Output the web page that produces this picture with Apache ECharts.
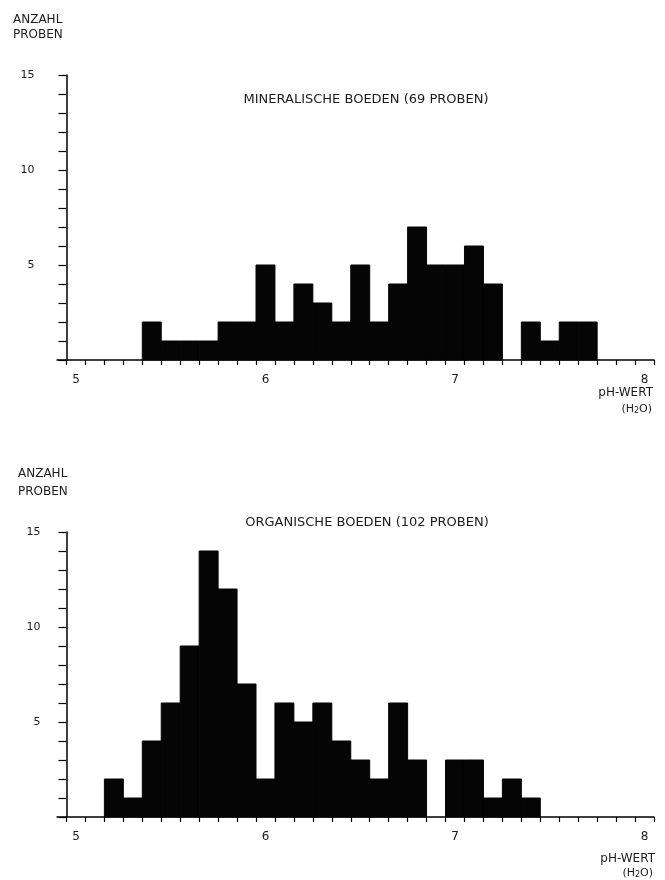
<!DOCTYPE html>
<html>
<head>
<meta charset="utf-8">
<script src="https://cdn.jsdelivr.net/npm/echarts@6/dist/echarts.min.js"></script>
<style>
html,body{margin:0;padding:0;background:#fff;}
#chart{width:665px;height:880px;}
</style>
</head>
<body>
<div id="chart"></div>
<script>
// ---- data ----
var mineralPH = [5.4,5.5,5.6,5.7,5.8,5.9,6.0,6.1,6.2,6.3,6.4,6.5,6.6,6.7,6.8,6.9,7.0,7.1,7.2,7.3,7.4,7.5,7.6,7.7];
var mineralCount = [2,1,1,1,2,2,5,2,4,3,2,5,2,4,7,5,5,6,4,0,2,1,2,2];
var organicPH = [5.2,5.3,5.4,5.5,5.6,5.7,5.8,5.9,6.0,6.1,6.2,6.3,6.4,6.5,6.6,6.7,6.8,6.9,7.0,7.1,7.2,7.3,7.4];
var organicCount = [2,1,4,6,9,14,12,7,2,6,5,6,4,3,2,6,3,0,3,3,1,2,1];
var xTickLabels = [5,6,7,8];
var yTickLabels = [5,10,15];
var titleMineral = 'MINERALISCHE BOEDEN (69 PROBEN)';
var titleOrganic = 'ORGANISCHE BOEDEN (102 PROBEN)';
var yName = ['ANZAHL', 'PROBEN'];
var xName = 'pH-WERT';

// bin edges as tick positions (every 0.1 pH, bins centred on tenths)
var binTicks = [];
for (var k = 0; k <= 31; k++) binTicks.push(Math.round((4.95 + 0.1 * k) * 1000) / 1000);

var FONT = 'DejaVu Sans';
var TXT = '#1c1c1c';
var BAR = '#050505';

function pairs(xs, ys) { return xs.map(function (x, i) { return [x, ys[i]]; }); }

function renderBin(params, api) {
  var x = api.value(0), y = api.value(1);
  if (!y) return null;
  var p0 = api.coord([x - 0.05, y]);
  var p1 = api.coord([x + 0.05, 0]);
  return {
    type: 'rect',
    shape: { x: p0[0], y: p0[1], width: p1[0] - p0[0], height: p1[1] - p0[1] },
    style: { fill: BAR, stroke: BAR, lineWidth: 1, lineJoin: 'miter' }
  };
}

function xAxisCfg(gi) {
  return {
    gridIndex: gi, type: 'value', min: 4.9, max: 8.05,
    axisLine: { show: true, lineStyle: { color: '#000', width: 1.5 } },
    axisTick: { show: true, customValues: binTicks, length: 5, lineStyle: { color: '#000', width: 1.2 } },
    axisLabel: { customValues: xTickLabels, margin: 14, fontFamily: FONT, fontSize: 12, color: TXT },
    splitLine: { show: false }
  };
}
function yAxisCfg(gi, margin) {
  return {
    gridIndex: gi, type: 'value', min: 0, max: 15, interval: 1, offset: -9.5,
    axisLine: { show: true, lineStyle: { color: '#000', width: 1.5 } },
    axisTick: { show: true, length: 8, lineStyle: { color: '#000', width: 1.2 } },
    axisLabel: { customValues: yTickLabels, margin: margin, fontFamily: FONT, fontSize: 11, color: TXT },
    splitLine: { show: false }
  };
}

function txt(x, y, text, align, size) {
  return {
    type: 'text', x: x, y: y,
    style: { text: text, fill: TXT, font: (size || 11) + 'px "' + FONT + '"', textAlign: align || 'left', textVerticalAlign: 'middle' }
  };
}
function h2o(xRight, y) {
  return {
    type: 'text', x: xRight, y: y,
    style: {
      text: '{a|(H}{s|2}{a|O)}',
      rich: {
        a: { fontFamily: FONT, fontSize: 11, fill: TXT, color: TXT },
        s: { fontFamily: FONT, fontSize: 8, fill: TXT, color: TXT, padding: [4, 0, 0, 0] }
      },
      textAlign: 'right', textVerticalAlign: 'middle'
    }
  };
}

var chart = echarts.init(document.getElementById('chart'));
chart.setOption({
  backgroundColor: '#fff',
  animation: false,
  grid: [
    { left: 57, top: 75, width: 597, height: 285 },
    { left: 57, top: 532, width: 597, height: 285 }
  ],
  xAxis: [xAxisCfg(0), xAxisCfg(1)],
  yAxis: [yAxisCfg(0, 32), yAxisCfg(1, 26)],
  series: [
    { type: 'custom', xAxisIndex: 0, yAxisIndex: 0, renderItem: renderBin, encode: { x: 0, y: 1 }, data: pairs(mineralPH, mineralCount) },
    { type: 'custom', xAxisIndex: 1, yAxisIndex: 1, renderItem: renderBin, encode: { x: 0, y: 1 }, data: pairs(organicPH, organicCount) }
  ],
  graphic: [
    txt(13, 20, yName[0], 'left', 12),
    txt(13, 35, yName[1], 'left', 12),
    txt(366, 100, titleMineral, 'center', 13),
    txt(653, 393, xName, 'right', 12),
    h2o(652, 409),
    txt(18, 474, yName[0], 'left', 12),
    txt(18, 492, yName[1], 'left', 12),
    txt(367, 523, titleOrganic, 'center', 13),
    txt(655, 859, xName, 'right', 12),
    h2o(653, 873)
  ]
});
</script>
</body>
</html>
